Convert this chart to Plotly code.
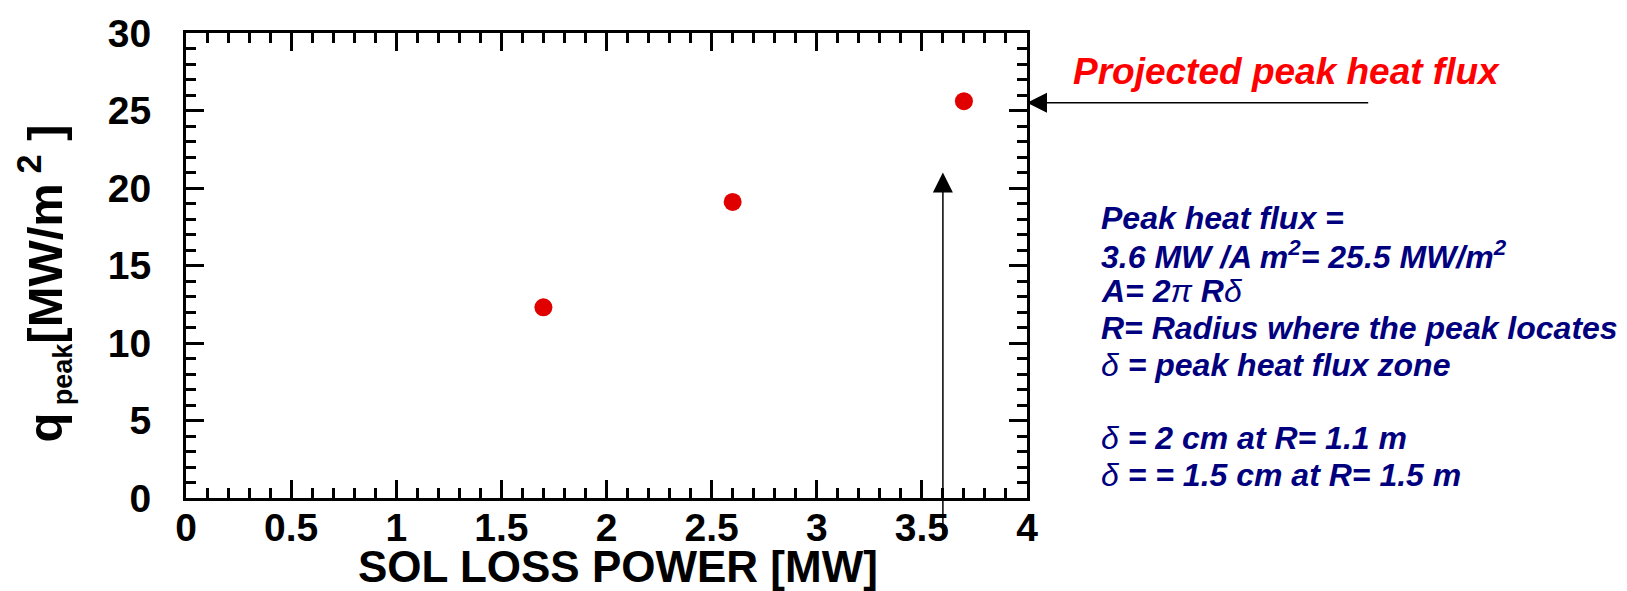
import plotly.graph_objects as go

# ---- data ----
sol_power = [1.7, 2.6, 3.7]          # MW
q_peak = [12.3, 19.1, 25.6]          # MW/m^2
proj_power = 3.6                     # MW (projected)
proj_flux = 25.5                     # MW/m^2 (projected)
proj_arrow_tip = 21.0                # y of vertical arrow tip
x_ticks = [0, 0.5, 1, 1.5, 2, 2.5, 3, 3.5, 4]
x_tick_labels = ["0", "0.5", "1", "1.5", "2", "2.5", "3", "3.5", "4"]
y_ticks = [0, 5, 10, 15, 20, 25, 30]
y_tick_labels = ["0", "5", "10", "15", "20", "25", "30"]
D = '<span style="font-weight:normal">δ</span>'
P = '<span style="font-weight:normal">π</span>'
info_lines = [
    "Peak heat flux =",
    "3.6 MW /A m<sup>2</sup>= 25.5 MW/m<sup>2</sup>",
    f"A= 2{P} R{D}",
    "R= Radius where the peak locates",
    f"{D} = peak heat flux zone",
    f"{D} = 2 cm at R= 1.1 m",
    f"{D} = = 1.5 cm at R= 1.5 m",
]

# ---- layout geometry (pixels) ----
W, H = 1627, 591
L, R, T, B = 186, 600, 23, 93
PW, PH = W - L - R, H - T - B


def px(xp):
    return (xp - L) / PW


def py(yp):
    return (H - B - yp) / PH


FONT = "Liberation Sans, Arial, sans-serif"

fig = go.Figure()
fig.add_trace(go.Scatter(
    x=sol_power, y=q_peak, mode="markers",
    marker=dict(size=18, color="#e00000", line=dict(width=0)),
    showlegend=False, cliponaxis=False,
))

axis_common = dict(
    showline=True, linewidth=3, linecolor="black", mirror="ticks",
    ticks="inside", ticklen=18, tickwidth=3, tickcolor="black",
    showgrid=False, zeroline=False,
    tickfont=dict(family=FONT, size=39, color="black", weight="bold"),
)

fig.update_xaxes(
    range=[0, 4], tickvals=x_ticks, ticktext=x_tick_labels,
    minor=dict(dtick=0.1, ticks="inside", ticklen=10, tickwidth=2.5, tickcolor="black", showgrid=False),
    ticklabelstandoff=-7,
    **axis_common,
)
fig.update_yaxes(
    range=[0, 30], tickvals=y_ticks, ticktext=y_tick_labels,
    minor=dict(dtick=1, ticks="inside", ticklen=10, tickwidth=2.5, tickcolor="black", showgrid=False),
    ticklabelstandoff=24,
    **axis_common,
)

annotations = []
# axis titles
annotations.append(dict(
    text="SOL LOSS POWER [MW]", xref="paper", yref="paper",
    x=px(618), y=py(568), xanchor="center", yanchor="middle", showarrow=False,
    font=dict(family=FONT, size=44, color="black", weight="bold"),
))
annotations.append(dict(
    text='q<sub><span style="font-size:27px"> peak</span></sub>[MW/m<sup> 2</sup> ]',
    xref="paper", yref="paper",
    x=px(44), y=py(279), xanchor="center", yanchor="middle", showarrow=False,
    textangle=-90,
    font=dict(family=FONT, size=49, color="black", weight="bold"),
))
# projected label
annotations.append(dict(
    text="Projected peak heat flux", xref="paper", yref="paper",
    x=px(1286), y=py(62), xanchor="center", yanchor="middle", showarrow=False,
    font=dict(family=FONT, size=37, color="#ff0000", weight="bold", style="italic"),
))
# arrows
annotations.append(dict(
    x=4.0, y=proj_flux, xref="x", yref="y",
    ax=5.63, ay=proj_flux, axref="x", ayref="y",
    text="", showarrow=True, arrowhead=2, arrowsize=2.67, arrowwidth=1.5,
    arrowcolor="black", standoff=0,
))
annotations.append(dict(
    x=proj_power, y=proj_arrow_tip, xref="x", yref="y",
    ax=proj_power, ay=-2.4, axref="x", ayref="y",
    text="", showarrow=True, arrowhead=2, arrowsize=2.67, arrowwidth=1.5,
    arrowcolor="black", standoff=0,
))
# info lines
line_y = [212, 249.5, 287, 324.5, 362, 437, 475]
for txt, yy in zip(info_lines, line_y):
    annotations.append(dict(
        text=txt, xref="paper", yref="paper",
        x=px(1099), y=py(yy), xanchor="left", yanchor="middle", showarrow=False,
        font=dict(family=FONT, size=32, color="#00007f", weight="bold", style="italic"),
    ))

fig.update_layout(
    width=W, height=H,
    margin=dict(l=L, r=R, t=T, b=B, pad=0),
    paper_bgcolor="white", plot_bgcolor="white",
    annotations=annotations,
)

fig.write_html("out.html")
